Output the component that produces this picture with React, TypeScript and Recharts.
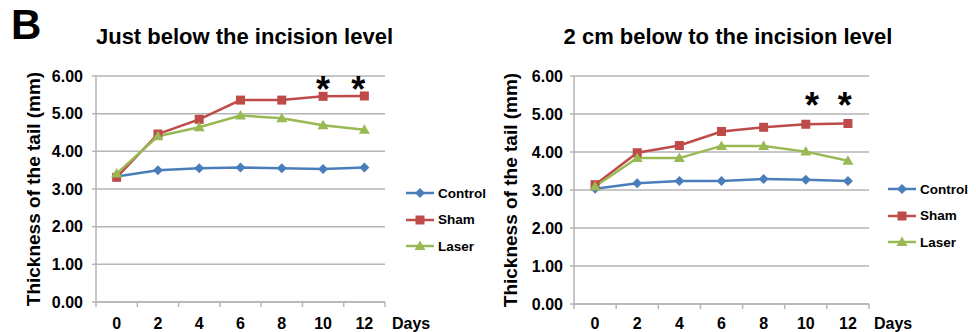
import React from "react";
import {
  LineChart,
  Line,
  XAxis,
  YAxis,
  CartesianGrid,
  Legend,
  ReferenceDot,
} from "recharts";

// Days of measurement
const days = [0, 2, 4, 6, 8, 10, 12];

// Just below the incision level
const leftControl = [3.33, 3.5, 3.55, 3.57, 3.55, 3.53, 3.57];
const leftSham = [3.31, 4.46, 4.85, 5.36, 5.36, 5.46, 5.47];
const leftLaser = [3.41, 4.4, 4.64, 4.95, 4.88, 4.69, 4.57];
const leftStarDays = [10, 11.7];
const leftStarValue = 5.84;

// 2 cm below to the incision level
const rightControl = [3.03, 3.18, 3.24, 3.24, 3.29, 3.27, 3.24];
const rightSham = [3.14, 3.98, 4.17, 4.54, 4.65, 4.73, 4.75];
const rightLaser = [3.09, 3.84, 3.84, 4.16, 4.16, 4.01, 3.77];
const rightStarDays = [10.3, 11.85];
const rightStarValue = 5.42;

const yTicks = [0, 1, 2, 3, 4, 5, 6];
const xTicks = [-1, 0, 1, 2, 3, 4, 5, 6, 7, 8, 9, 10, 11, 12, 13];

const FONT = '"Liberation Sans", Arial, sans-serif';
const GRID = "#b5b5b5";
const LEGEND_W = 90;

const SERIES = [
  { key: "control", name: "Control", color: "#4a7ebb", shape: "diamond" },
  { key: "sham", name: "Sham", color: "#be4b48", shape: "square" },
  { key: "laser", name: "Laser", color: "#98b954", shape: "triangle" },
];

function Marker({ cx, cy, color, shape }: any) {
  if (cx == null || cy == null) return null;
  if (shape === "diamond") {
    return (
      <polygon
        points={`${cx},${cy - 5} ${cx + 5},${cy} ${cx},${cy + 5} ${cx - 5},${cy}`}
        fill={color}
      />
    );
  }
  if (shape === "square") {
    return <rect x={cx - 4.5} y={cy - 4.5} width={9} height={9} fill={color} />;
  }
  return (
    <polygon
      points={`${cx},${cy - 5.5} ${cx + 5.5},${cy + 4} ${cx - 5.5},${cy + 4}`}
      fill={color}
    />
  );
}

function LegendBox() {
  return (
    <div style={{ fontFamily: FONT, fontWeight: "bold", fontSize: 13.5 }}>
      {SERIES.map((s) => (
        <div
          key={s.key}
          style={{ height: 26.5, display: "flex", alignItems: "center" }}
        >
          <svg width={28} height={12} style={{ marginRight: 4 }}>
            <line x1={0} y1={6} x2={28} y2={6} stroke={s.color} strokeWidth={2.5} />
            <Marker cx={14} cy={6} color={s.color} shape={s.shape} />
          </svg>
          <span>{s.name}</span>
        </div>
      ))}
    </div>
  );
}

function makeXTick(labelDy: number, daysDx: number) {
  return ({ x, y, payload }: any) => {
    const v = payload.value;
    if (v % 2 !== 0) {
      return (
        <g>
          <line x1={x} y1={y} x2={x} y2={y + 5} stroke={GRID} strokeWidth={1.5} />
          {v === 13 && (
            <text
              x={x + daysDx}
              y={y + labelDy}
              fontFamily={FONT}
              fontWeight="bold"
              fontSize={16}
              fill="#000"
            >
              Days
            </text>
          )}
        </g>
      );
    }
    return (
      <text
        x={x}
        y={y + labelDy}
        textAnchor="middle"
        fontFamily={FONT}
        fontWeight="bold"
        fontSize={16}
        fill="#000"
      >
        {v}
      </text>
    );
  };
}

function Star({ cx, cy }: any) {
  return (
    <text
      x={cx}
      y={cy + 20}
      textAnchor="middle"
      fontFamily={FONT}
      fontWeight="bold"
      fontSize={36}
      fill="#000"
    >
      *
    </text>
  );
}

function Panel(props: any) {
  const {
    left,
    title,
    titleCenter,
    control,
    sham,
    laser,
    yAxisWidth,
    plotRight,
    xAxisHeight,
    labelX,
    tickGap,
    labelDy,
    daysDx,
    legendLeft,
    legendTop,
    starDays,
    starValue,
  } = props;
  const data = days.map((d, i) => ({
    day: d,
    control: control[i],
    sham: sham[i],
    laser: laser[i],
  }));
  return (
    <div style={{ position: "absolute", left, top: 0, width: 488, height: 332 }}>
      <div
        style={{
          position: "absolute",
          left: titleCenter - 200,
          width: 400,
          top: 26,
          textAlign: "center",
          fontFamily: FONT,
          fontWeight: "bold",
          fontSize: 22,
          lineHeight: "22px",
          whiteSpace: "nowrap",
        }}
      >
        {title}
      </div>
      <LineChart
        width={488}
        height={332}
        data={data}
        margin={{ top: 76, right: 488 - plotRight - LEGEND_W, bottom: 0, left: 0 }}
      >
        <CartesianGrid vertical={false} stroke={GRID} strokeWidth={1.5} />
        <XAxis
          dataKey="day"
          type="number"
          domain={[-1, 13]}
          ticks={xTicks}
          interval={0}
          height={xAxisHeight}
          stroke={GRID}
          strokeWidth={1.5}
          tickLine={false}
          tickSize={0}
          tickMargin={0}
          tick={makeXTick(labelDy, daysDx)}
        />
        <YAxis
          type="number"
          domain={[0, 6]}
          ticks={yTicks}
          interval={0}
          width={yAxisWidth}
          stroke={GRID}
          strokeWidth={1.5}
          tickSize={4}
          tickMargin={tickGap}
          tickFormatter={(v: number) => v.toFixed(2)}
          tick={{ fill: "#000", fontSize: 16, fontWeight: "bold", fontFamily: FONT }}
          label={{
            value: "Thickness of the tail (mm)",
            angle: -90,
            position: "insideLeft",
            offset: labelX,
            style: {
              textAnchor: "middle",
              fontSize: 19,
              fontWeight: "bold",
              fontFamily: FONT,
              fill: "#000",
            },
          }}
        />
        <Legend
          layout="vertical"
          verticalAlign="top"
          align="right"
          wrapperStyle={{ left: legendLeft, top: legendTop, width: LEGEND_W, right: "auto" }}
          content={() => <LegendBox />}
        />
        {SERIES.map((s) => (
          <Line
            key={s.key}
            dataKey={s.key}
            name={s.name}
            stroke={s.color}
            strokeWidth={2.5}
            isAnimationActive={false}
            dot={(p: any) => (
              <Marker key={`${s.key}-${p.index}`} cx={p.cx} cy={p.cy} color={s.color} shape={s.shape} />
            )}
            activeDot={false}
          />
        ))}
        {starDays.map((d: number) => (
          <ReferenceDot
            key={d}
            x={d}
            y={starValue}
            r={0}
            ifOverflow="visible"
            shape={(p: any) => <Star cx={p.cx} cy={p.cy} />}
          />
        ))}
      </LineChart>
    </div>
  );
}

export default function App() {
  return (
    <div
      style={{
        position: "absolute",
        top: 0,
        left: 0,
        width: 976,
        height: 332,
        background: "#fff",
        fontFamily: FONT,
      }}
    >
      <div
        style={{
          position: "absolute",
          left: 11,
          top: 4,
          fontFamily: FONT,
          fontWeight: "bold",
          fontSize: 42,
          lineHeight: "42px",
        }}
      >
        B
      </div>
      <Panel
        left={0}
        title="Just below the incision level"
        titleCenter={244.5}
        control={leftControl}
        sham={leftSham}
        laser={leftLaser}
        yAxisWidth={96}
        plotRight={385}
        xAxisHeight={30}
        labelX={33}
        tickGap={9}
        labelDy={27}
        daysDx={7}
        legendLeft={406}
        legendTop={180}
        starDays={leftStarDays}
        starValue={leftStarValue}
      />
      <Panel
        left={488}
        title="2 cm below to the incision level"
        titleCenter={240}
        control={rightControl}
        sham={rightSham}
        laser={rightLaser}
        yAxisWidth={86}
        plotRight={381}
        xAxisHeight={28}
        labelX={22}
        tickGap={7}
        labelDy={25}
        daysDx={5}
        legendLeft={400}
        legendTop={176}
        starDays={rightStarDays}
        starValue={rightStarValue}
      />
    </div>
  );
}
